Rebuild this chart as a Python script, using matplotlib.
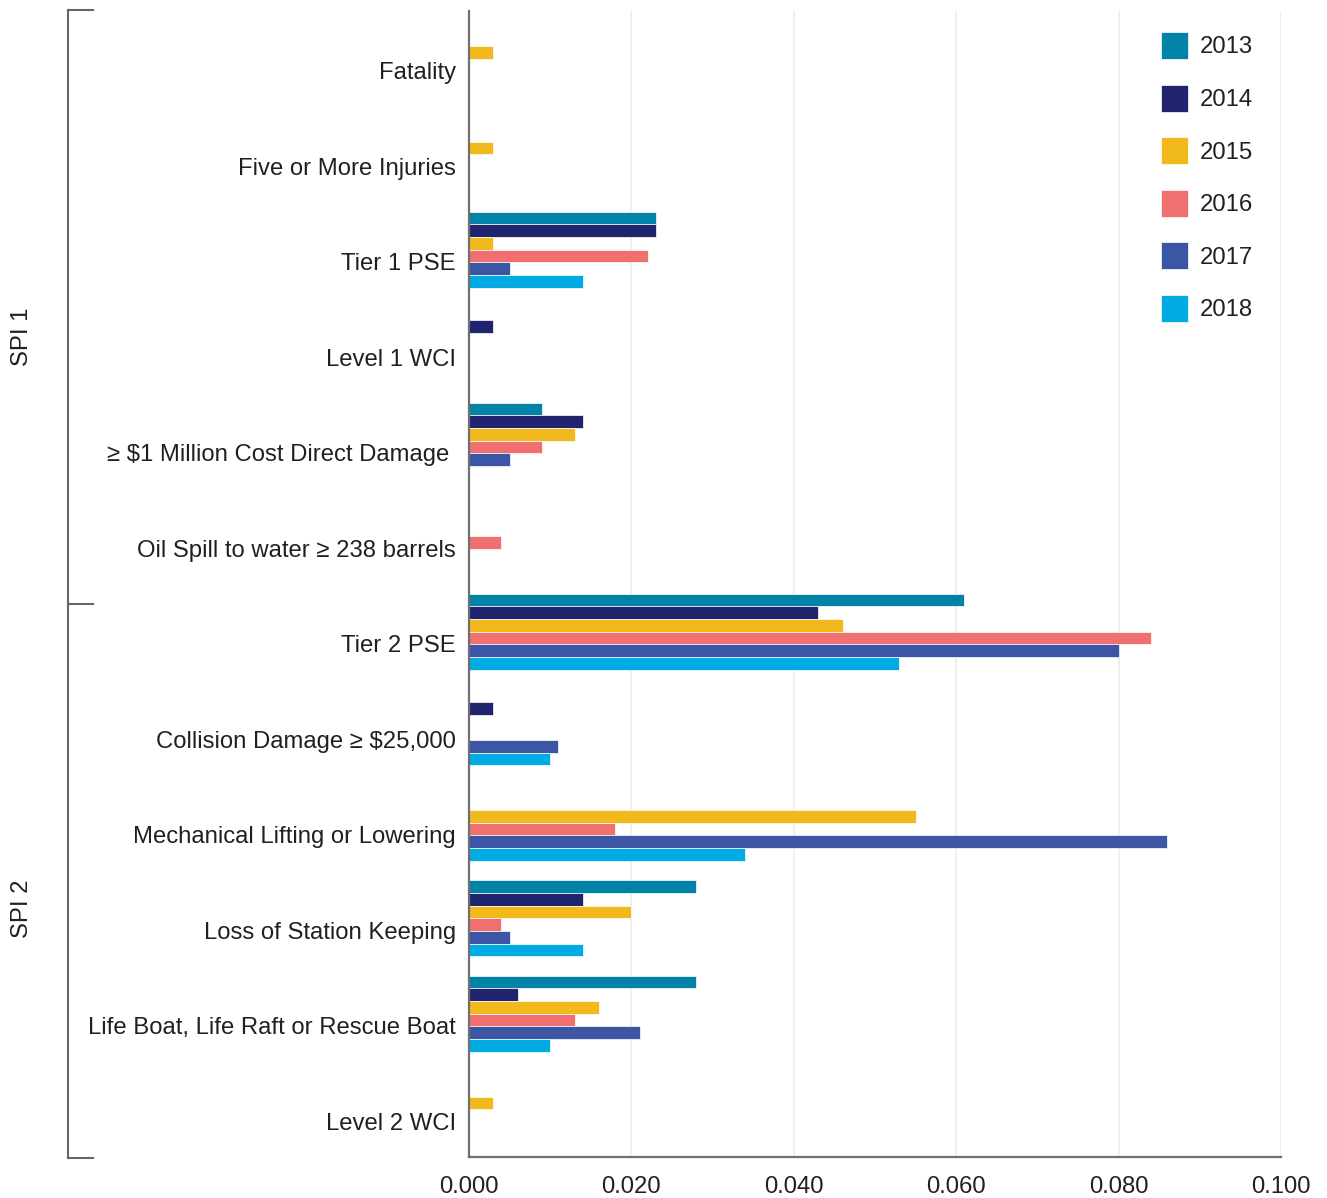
import matplotlib
matplotlib.use("Agg")
import matplotlib.pyplot as plt
from matplotlib.lines import Line2D
import numpy as np

plt.rcParams['font.family'] = ['Liberation Sans', 'DejaVu Sans']

categories = ["Fatality", "Five or More Injuries", "Tier 1 PSE", "Level 1 WCI",
              "≥ $1 Million Cost Direct Damage ", "Oil Spill to water ≥ 238 barrels",
              "Tier 2 PSE", "Collision Damage ≥ $25,000", "Mechanical Lifting or Lowering",
              "Loss of Station Keeping", "Life Boat, Life Raft or Rescue Boat", "Level 2 WCI"]
years = ["2013", "2014", "2015", "2016", "2017", "2018"]
v2013 = [0, 0, 0.023, 0, 0.009, 0, 0.061, 0, 0, 0.028, 0.028, 0]
v2014 = [0, 0, 0.023, 0.003, 0.014, 0, 0.043, 0.003, 0, 0.014, 0.006, 0]
v2015 = [0.003, 0.003, 0.003, 0, 0.013, 0, 0.046, 0, 0.055, 0.020, 0.016, 0.003]
v2016 = [0, 0, 0.022, 0, 0.009, 0.004, 0.084, 0, 0.018, 0.004, 0.013, 0]
v2017 = [0, 0, 0.005, 0, 0.005, 0, 0.080, 0.011, 0.086, 0.005, 0.021, 0]
v2018 = [0, 0, 0.014, 0, 0, 0, 0.053, 0.010, 0.034, 0.014, 0.010, 0]
series = [v2013, v2014, v2015, v2016, v2017, v2018]
colors = ["#0083a6", "#20236e", "#f2b91c", "#f07070", "#3c55a5", "#00aae2"]
xticks = [0.0, 0.02, 0.04, 0.06, 0.08, 0.10]

W, H = 1327, 1198
fig = plt.figure(figsize=(W/100, H/100), dpi=100)
ax = fig.add_axes([469/W, 1-1157/H, (1281-469)/W, (1157-11)/H])

txt = "#231f20"
fs = 17.2
n = len(categories)
y = np.arange(n)
bh = 0.1327
for k, (vals, c, yr) in enumerate(zip(series, colors, years)):
    ax.barh(y + (k-2.5)*bh, vals, height=bh, color=c, label=yr,
            edgecolor="white", linewidth=0.5)

ax.set_ylim(n-0.5, -0.5)
ax.set_xlim(0, 0.1)
ax.set_yticks(y + 0.126)
ax.set_yticklabels(categories, fontsize=fs, color=txt)
ax.tick_params(axis='y', length=0, pad=9.4)
ax.set_xticks(xticks)
ax.set_xticklabels([f"{t:.3f}" for t in xticks], fontsize=fs, color=txt)
ax.tick_params(axis='x', length=0, pad=14)
ax.grid(axis='x', color="#ececec", linewidth=1.2)
ax.set_axisbelow(True)
for s in ["top", "right"]:
    ax.spines[s].set_visible(False)
for s in ["left", "bottom"]:
    ax.spines[s].set_color("#707070")
    ax.spines[s].set_linewidth(1.6)

fpx = fs * 100 / 72
hh = 27 / fpx
leg = ax.legend(loc="upper left", bbox_to_anchor=(1161/W, 1-32/H),
                bbox_transform=fig.transFigure, frameon=False, fontsize=fs,
                handlelength=hh, handleheight=(hh - 0.245) / 0.65, labelspacing=1.07,
                handletextpad=0.5, borderpad=0, borderaxespad=0)
for t in leg.get_texts():
    t.set_color(txt)

# bracket
bc = "#666666"
def fx(px): return px / W
def fy(py): return 1 - py / H
fig.add_artist(Line2D([fx(68), fx(68)], [fy(10), fy(1158)], color=bc, lw=1.5,
                      transform=fig.transFigure))
for py in [10, 603.5, 1158]:
    fig.add_artist(Line2D([fx(67.5), fx(93)], [fy(py), fy(py)], color=bc, lw=1.5,
                          transform=fig.transFigure))
fig.text(fx(22), fy(337), "SPI 1", rotation=90, ha="center", va="center",
         fontsize=fs, color=txt)
fig.text(fx(22), fy(909), "SPI 2", rotation=90, ha="center", va="center",
         fontsize=fs, color=txt)

fig.savefig("out.png", dpi=100)
